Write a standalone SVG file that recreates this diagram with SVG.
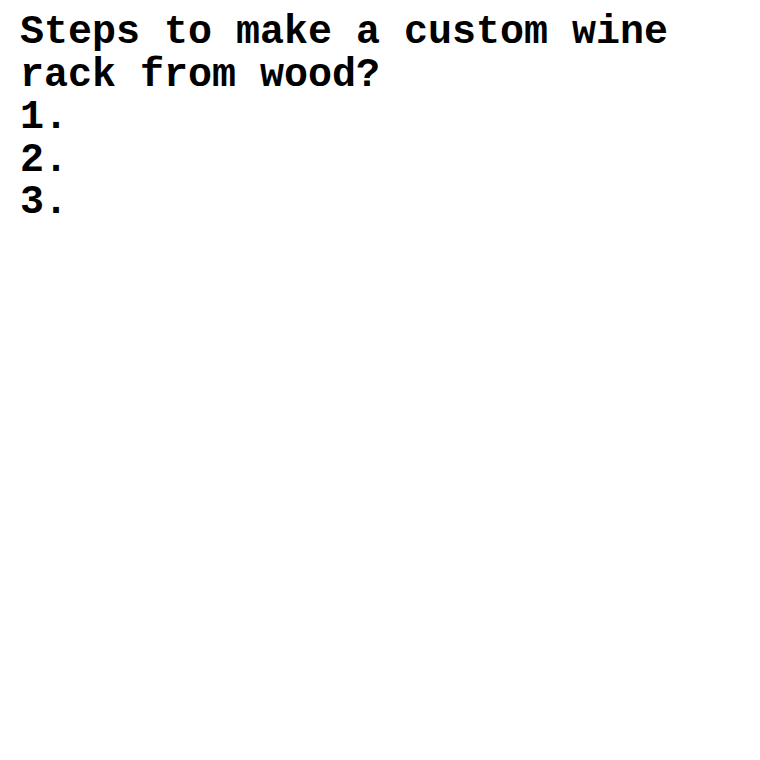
<svg xmlns="http://www.w3.org/2000/svg" width="760" height="760" viewBox="0 0 760 760">
<style>
text{font-family:"Liberation Mono","Courier New",monospace;font-weight:bold;font-size:40px;fill:#000}
</style>
<rect width="760" height="760" fill="#fff"/>
<g id="text">
<text x="20" y="43">Steps to make a custom wine</text>
<text x="20" y="85.5">rack from wood?</text>
<text x="20" y="128">1.</text>
<text x="20" y="170.5">2.</text>
<text x="20" y="213">3.</text>
</g>
</svg>
